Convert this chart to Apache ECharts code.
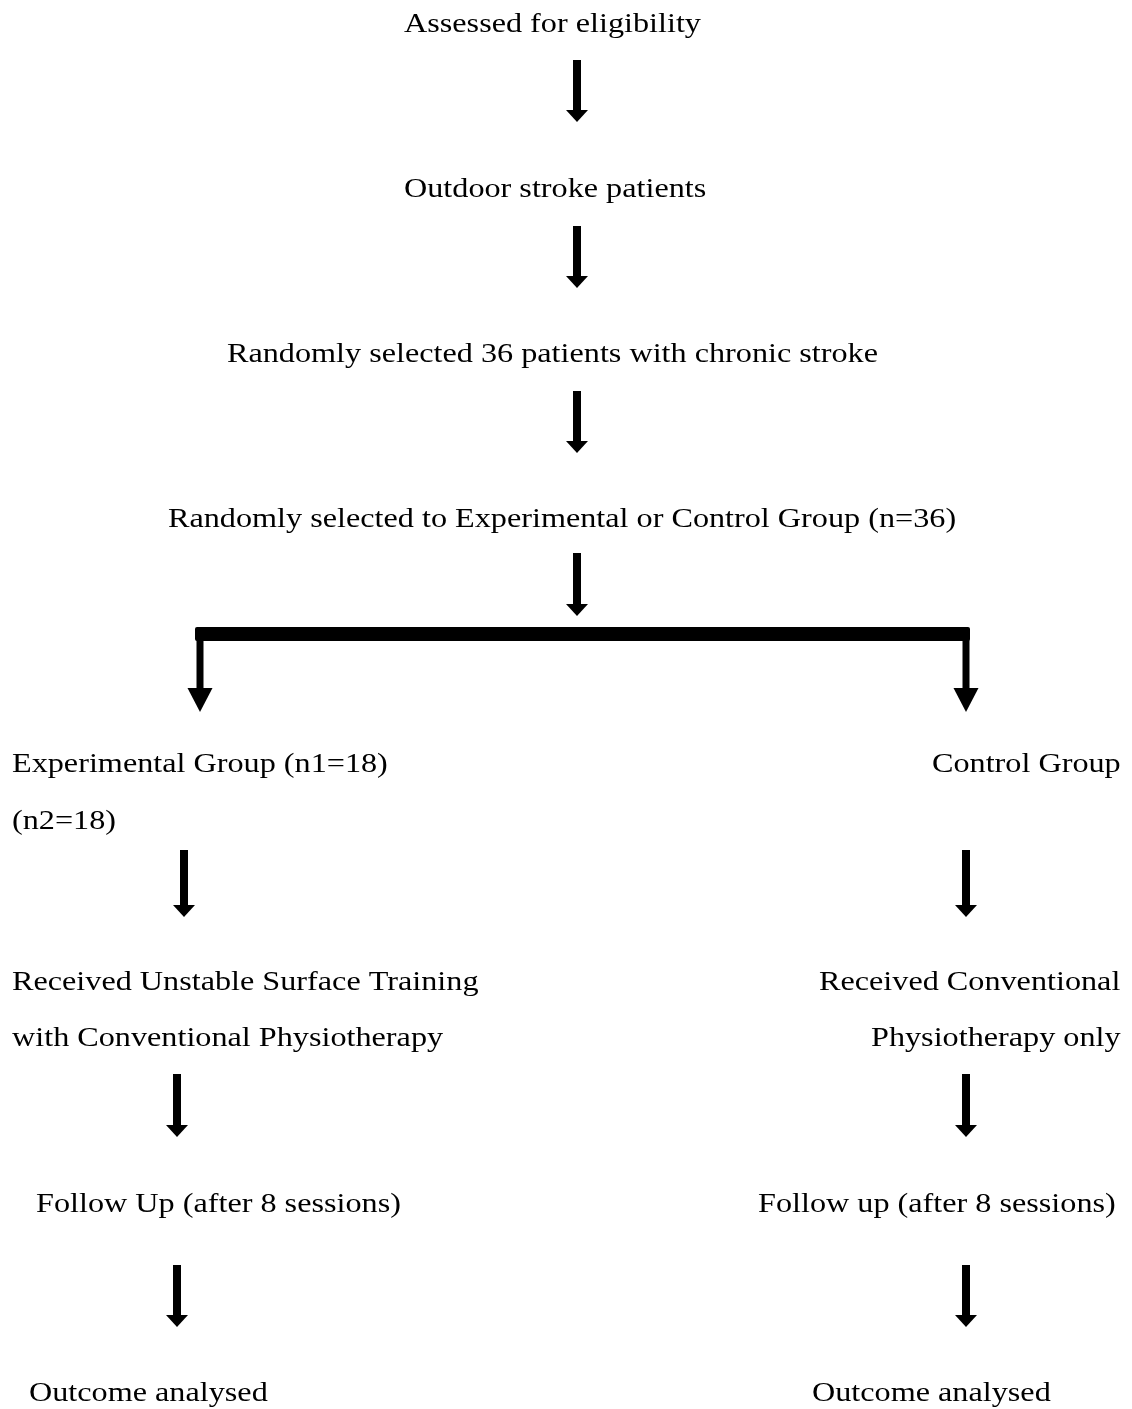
<!DOCTYPE html>
<html>
<head>
<meta charset="utf-8">
<script src="https://cdn.jsdelivr.net/npm/echarts@6/dist/echarts.min.js"></script>
<style>
  html, body { margin: 0; padding: 0; background: #ffffff; }
  #chart { width: 1132px; height: 1409px; }
</style>
</head>
<body>
<div id="chart"></div>
<script>
// Flowchart node texts
const nodeTexts = [
  'Assessed for eligibility',
  'Outdoor stroke patients',
  'Randomly selected 36 patients with chronic stroke',
  'Randomly selected to Experimental or Control Group (n=36)',
  'Experimental Group (n1=18)',
  '(n2=18)',
  'Control Group',
  'Received Unstable Surface Training',
  'with Conventional Physiotherapy',
  'Received Conventional',
  'Physiotherapy only',
  'Follow Up (after 8 sessions)',
  'Follow up (after 8 sessions)',
  'Outcome analysed',
  'Outcome analysed'
];
// node anchor (left edge) and baseline in diagram units
const nodeX = [404, 404, 227, 168, 12, 12, 932, 12, 12, 819, 871, 36, 758, 29, 812];
const nodeY = [34, 199, 364, 529, 774, 831, 774, 992, 1048, 992, 1048, 1214, 1214, 1403, 1403];

// straight arrows: x, start y, tip y
const arrowX  = [577, 577, 577, 577, 184, 966, 177, 966, 177, 966];
const arrowY0 = [60, 226, 391, 553, 850, 850, 1074, 1074, 1265, 1265];
const arrowY1 = [122, 288, 453, 616, 917, 917, 1137, 1137, 1327, 1327];

// branch connector: horizontal bar and two drop arrows
const branchBar = { x0: 195, x1: 970, y: 634 };
const branchX = [200, 966];
const branchTip = 712;

const chart = echarts.init(document.getElementById('chart'), null, { renderer: 'canvas' });

const FONT = '"Liberation Serif", "Times New Roman", serif';
const FS = 28;
const STRETCH = 1.15;

const option = {
  backgroundColor: '#ffffff',
  animation: false,
  grid: { left: 0, right: 0, top: 0, bottom: 0 },
  xAxis: { type: 'value', min: 0, max: 1132, show: false },
  yAxis: { type: 'value', min: 0, max: 1409, inverse: true, show: false },
  series: [
    {
      type: 'custom',
      name: 'texts',
      coordinateSystem: 'cartesian2d',
      data: nodeTexts.map((t, i) => [nodeX[i], nodeY[i], i]),
      renderItem: function (params, api) {
        const p = api.coord([api.value(0), api.value(1)]);
        const i = api.value(2);
        return {
          type: 'text',
          x: p[0],
          y: p[1] - 0.34 * FS,
          scaleX: STRETCH,
          style: {
            text: nodeTexts[i],
            fill: '#000000',
            fontSize: FS,
            fontFamily: FONT,
            align: 'left',
            verticalAlign: 'middle'
          }
        };
      }
    },
    {
      type: 'custom',
      name: 'arrows',
      coordinateSystem: 'cartesian2d',
      data: arrowX.map((x, i) => [x, arrowY0[i], arrowY1[i]]),
      renderItem: function (params, api) {
        const top = api.coord([api.value(0), api.value(1)]);
        const tip = api.coord([api.value(0), api.value(2)]);
        const cx = top[0];
        const headH = 12, headW = 22, shaftW = 8;
        return {
          type: 'group',
          children: [
            { type: 'rect', shape: { x: cx - shaftW / 2, y: top[1], width: shaftW, height: tip[1] - headH - top[1] + 1 }, style: { fill: '#000' } },
            { type: 'polygon', shape: { points: [[cx - headW / 2, tip[1] - headH], [cx + headW / 2, tip[1] - headH], [cx, tip[1]]] }, style: { fill: '#000' } }
          ]
        };
      }
    },
    {
      type: 'custom',
      name: 'branch',
      coordinateSystem: 'cartesian2d',
      data: [[branchBar.x0, branchBar.x1, branchBar.y]],
      renderItem: function (params, api) {
        const a = api.coord([api.value(0), api.value(2)]);
        const b = api.coord([api.value(1), api.value(2)]);
        const children = [
          { type: 'rect', shape: { x: a[0], y: a[1] - 7, width: b[0] - a[0], height: 14, r: 2 }, style: { fill: '#000' } }
        ];
        branchX.forEach(function (bx) {
          const s = api.coord([bx, branchBar.y]);
          const t = api.coord([bx, branchTip]);
          const headH = 24, headW = 25, shaftW = 7;
          children.push({ type: 'rect', shape: { x: s[0] - shaftW / 2, y: s[1], width: shaftW, height: t[1] - headH - s[1] + 1 }, style: { fill: '#000' } });
          children.push({ type: 'polygon', shape: { points: [[s[0] - headW / 2, t[1] - headH], [s[0] + headW / 2, t[1] - headH], [s[0], t[1]]] }, style: { fill: '#000' } });
        });
        return { type: 'group', children: children };
      }
    }
  ]
};

chart.setOption(option);
</script>
</body>
</html>
